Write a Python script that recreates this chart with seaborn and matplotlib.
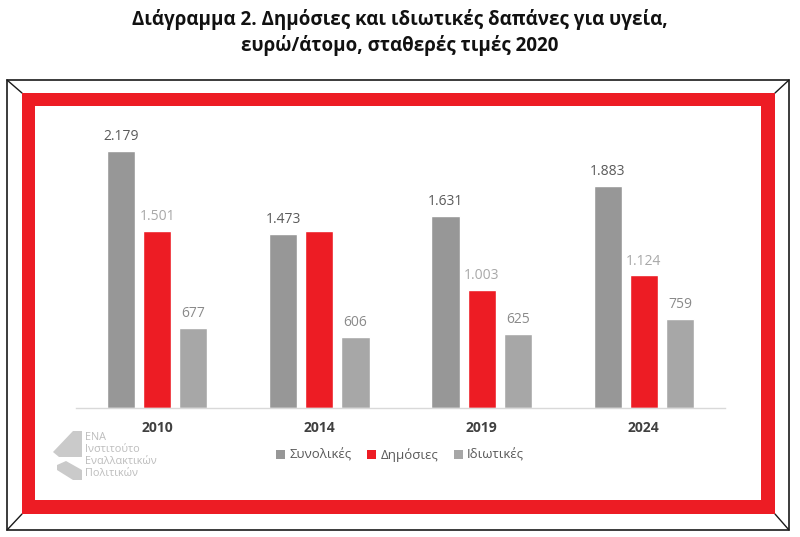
import matplotlib
matplotlib.use("Agg")
import matplotlib.pyplot as plt
import seaborn as sns
import pandas as pd
from matplotlib.patches import Rectangle, Polygon
from matplotlib.lines import Line2D

years = ["2010", "2014", "2019", "2024"]
series = ["Συνολικές", "Δημόσιες", "Ιδιωτικές"]
total_vals = [2179, 1473, 1631, 1883]
public_vals = [1501, 1501, 1003, 1124]
private_vals = [677, 606, 625, 759]
# data labels as shown in the reference (the 2014 public bar carries no label)
total_labels = ["2.179", "1.473", "1.631", "1.883"]
public_labels = ["1.501", "", "1.003", "1.124"]
private_labels = ["677", "606", "625", "759"]

bar_colors = ["#979797", "#ED1C24", "#A7A7A7"]
label_colors = ["#5a5a5a", "#a8a8a8", "#8a8a8a"]
RED = "#ED1C24"

df = pd.DataFrame({
    "year": years * 3,
    "series": [series[0]] * 4 + [series[1]] * 4 + [series[2]] * 4,
    "value": total_vals + public_vals + private_vals,
})

sns.set_theme(style="white")
plt.rcParams["font.family"] = ["Open Sans", "DejaVu Sans"]

W, H = 800, 537
fig = plt.figure(figsize=(8, 5.37), dpi=100)

def fx(x):
    return x / W

def fy(y):
    return 1 - y / H

# outer black frame with bevel corners
fig.patches.append(Rectangle((fx(7), fy(530)), fx(789) - fx(7), fy(80) - fy(530),
                             transform=fig.transFigure, fill=False, ec="#1a1a1a", lw=1.2, zorder=-3))
for (x1, y1, x2, y2) in [(7, 80, 22, 93), (789, 80, 775, 93), (7, 530, 22, 514), (789, 530, 775, 514)]:
    fig.lines.append(Line2D([fx(x1), fx(x2)], [fy(y1), fy(y2)], transform=fig.transFigure,
                            color="#1a1a1a", lw=1.0, zorder=-3))
# red band
fig.patches.append(Rectangle((fx(22), fy(514)), fx(775) - fx(22), fy(93) - fy(514),
                             transform=fig.transFigure, fc=RED, ec="none", zorder=-2))
fig.patches.append(Rectangle((fx(35), fy(500)), fx(761) - fx(35), fy(106) - fy(500),
                             transform=fig.transFigure, fc="white", ec="none", zorder=-1))

ax = fig.add_axes([fx(76), fy(408), fx(725) - fx(76), fy(130) - fy(408)])
ax.set_zorder(2)
ax.set_facecolor("none")
sns.barplot(data=df, x="year", y="value", hue="series", hue_order=series,
            palette=bar_colors, width=0.667, gap=0.22, ax=ax, legend=False,
            saturation=1, errorbar=None)

ax.set_ylim(0, (408 - 130) / 0.1179)
ax.set_xlim(-0.5, 3.5)
ax.set_xlabel("")
ax.set_ylabel("")
ax.set_yticks([])
for s in ["top", "left", "right"]:
    ax.spines[s].set_visible(False)
ax.spines["bottom"].set_color("#d9d9d9")
ax.spines["bottom"].set_linewidth(1.0)
ax.tick_params(axis="x", length=0, pad=9)
for lab in ax.get_xticklabels():
    lab.set_fontweight("bold")
    lab.set_color("#404040")
    lab.set_fontsize(10)

all_labels = [total_labels, public_labels, private_labels]
for ci, cont in enumerate(ax.containers):
    for bi, patch in enumerate(cont.patches):
        txt = all_labels[ci][bi]
        if not txt:
            continue
        ax.annotate(txt, (patch.get_x() + patch.get_width() / 2, patch.get_height()),
                    xytext=(0, 5), textcoords="offset points", ha="center", va="bottom",
                    fontsize=10, color=label_colors[ci])

# title
fig.text(0.5, fy(20), "Διάγραμμα 2. Δημόσιες και ιδιωτικές δαπάνες για υγεία,",
         ha="center", va="center", fontsize=13.5, fontweight="bold", color="#111111")
fig.text(0.5, fy(46), "ευρώ/άτομο, σταθερές τιμές 2020",
         ha="center", va="center", fontsize=13.5, fontweight="bold", color="#111111")

# legend
handles = [Rectangle((0, 0), 1, 1, fc=c, ec="none") for c in bar_colors]
leg = fig.legend(handles, series, loc="center", bbox_to_anchor=(0.5, fy(455)), ncol=3,
                 frameon=False, fontsize=9.5, handlelength=0.7, handleheight=0.7,
                 handletextpad=0.3, columnspacing=1.2)
for tx in leg.get_texts():
    tx.set_color("#595959")

# logo
LOGO = "#cacaca"
fig.patches.append(Polygon([(fx(53), fy(452)), (fx(73), fy(431)), (fx(82), fy(431)),
                            (fx(82), fy(457)), (fx(59), fy(457))],
                           closed=True, transform=fig.transFigure, fc=LOGO, ec="none"))
fig.patches.append(Polygon([(fx(57), fy(465)), (fx(66), fy(461)), (fx(82), fy(470)),
                            (fx(82), fy(480)), (fx(73), fy(480)), (fx(57), fy(470))],
                           closed=True, transform=fig.transFigure, fc=LOGO, ec="none"))
for i, line in enumerate(["ΕΝΑ", "Ινστιτούτο", "Εναλλακτικών", "Πολιτικών"]):
    fig.text(fx(85), fy(437 + 12 * i), line, ha="left", va="center", fontsize=7.8, color="#bdbdbd")

fig.savefig("out.png", dpi=100)
